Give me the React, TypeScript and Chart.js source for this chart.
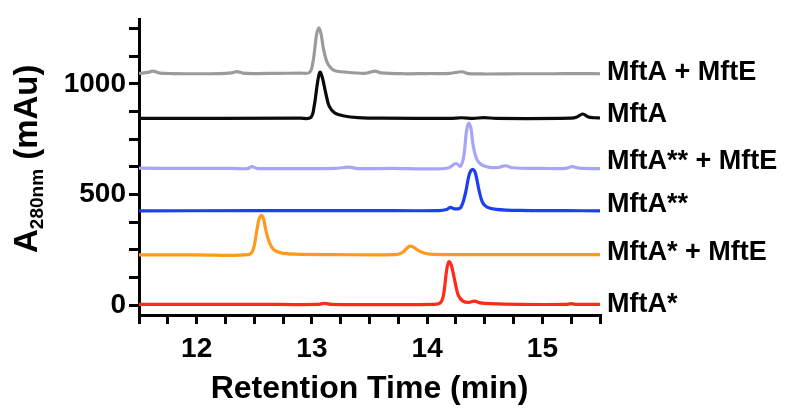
import React, { useEffect, useRef } from "react";
import { Chart, registerables } from "chart.js";

Chart.register(...registerables);

// ---- Data ----
const SERIES_NAMES = ["MftA + MftE", "MftA", "MftA** + MftE", "MftA**", "MftA* + MftE", "MftA*"];
const SERIES_COLORS = ["#9b9b9b", "#0a0a0a", "#a6a6f5", "#1c3ff0", "#ff9a1c", "#ff2a18"];

const X_TICK_LABELS = [12, 13, 14, 15];
const Y_TICK_LABELS = [0, 500, 1000];

const mftaMfteTime = [11.5, 11.58, 11.62, 11.68, 11.8, 12.0, 12.2, 12.3, 12.35, 12.4, 12.5, 12.7, 12.9, 12.98, 13.01, 13.04, 13.06, 13.08, 13.1, 13.13, 13.16, 13.2, 13.3, 13.45, 13.5, 13.55, 13.6, 13.8, 14.0, 14.2, 14.3, 14.36, 14.5, 14.8, 15.1, 15.3, 15.5];
const mftaMfteValue = [1048, 1052, 1058, 1049, 1047, 1046, 1047, 1050, 1056, 1049, 1047, 1048, 1049, 1052, 1100, 1220, 1253, 1225, 1160, 1100, 1075, 1060, 1053, 1048, 1052, 1058, 1050, 1046, 1047, 1048, 1055, 1047, 1045, 1046, 1046, 1047, 1046];

const mftaTime = [11.5, 12.9, 12.99, 13.02, 13.05, 13.07, 13.09, 13.12, 13.15, 13.2, 13.28, 13.4, 13.6, 14.2, 14.3, 14.4, 14.49, 14.6, 15.25, 15.3, 15.35, 15.4, 15.45, 15.5];
const mftaValue = [844, 845, 848, 900, 1010, 1053, 1030, 960, 900, 868, 855, 848, 845, 844, 847, 844, 848, 844, 845, 850, 864, 850, 847, 846];

const mftaSSMfteTime = [11.5, 11.9, 12.3, 12.44, 12.48, 12.52, 12.8, 13.2, 13.32, 13.4, 13.7, 14.0, 14.18, 14.25, 14.29, 14.32, 14.34, 14.36, 14.38, 14.4, 14.43, 14.47, 14.53, 14.62, 14.68, 14.74, 15.0, 15.2, 15.26, 15.32, 15.5];
const mftaSSMfteValue = [619, 618, 618, 617, 626, 618, 617, 618, 624, 617, 618, 616, 620, 640, 628, 680, 780, 822, 800, 720, 660, 635, 624, 622, 630, 621, 618, 618, 626, 619, 617];

const mftaSSTime = [11.5, 12.5, 13.5, 14.1, 14.17, 14.2, 14.24, 14.29, 14.33, 14.36, 14.38, 14.4, 14.42, 14.45, 14.48, 14.52, 14.6, 14.8, 15.2, 15.5];
const mftaSSValue = [426, 427, 427, 427, 432, 442, 435, 440, 500, 580, 608, 613, 595, 520, 465, 443, 433, 428, 427, 426];

const mftaSMfteTime = [11.5, 12.0, 12.45, 12.49, 12.52, 12.54, 12.56, 12.58, 12.6, 12.63, 12.67, 12.73, 12.85, 13.2, 13.72, 13.78, 13.82, 13.85, 13.88, 13.93, 13.98, 14.05, 14.5, 15.0, 15.5];
const mftaSMfteValue = [227, 227, 228, 250, 330, 385, 405, 390, 340, 285, 250, 236, 230, 228, 228, 236, 255, 267, 262, 245, 234, 229, 228, 228, 228];

const mftaSTime = [11.5, 12.5, 13.05, 13.11, 13.17, 13.6, 14.05, 14.11, 14.14, 14.17, 14.19, 14.21, 14.24, 14.27, 14.31, 14.36, 14.41, 14.46, 14.55, 14.8, 15.2, 15.25, 15.3, 15.5];
const mftaSValue = [3, 3, 3, 8, 3, 2, 3, 8, 40, 160, 196, 180, 110, 45, 18, 12, 18, 10, 6, 3, 3, 6, 3, 3];

const SERIES_TIMES = [mftaMfteTime, mftaTime, mftaSSMfteTime, mftaSSTime, mftaSMfteTime, mftaSTime];
const SERIES_VALUES = [mftaMfteValue, mftaValue, mftaSSMfteValue, mftaSSValue, mftaSMfteValue, mftaSValue];

const FONT = "'Liberation Sans', Arial, Helvetica, sans-serif";
const LABEL_NUDGE = [-1, -3, -7, -6, -2, 0];

const overlayPlugin = {
  id: "overlayText",
  afterDraw(chart: any) {
    const ctx = chart.ctx as CanvasRenderingContext2D;
    const { chartArea } = chart;
    const yScale = chart.scales.y;
    ctx.save();
    ctx.fillStyle = "#000";

    // X title
    ctx.font = `bold 32px ${FONT}`;
    ctx.textAlign = "center";
    ctx.textBaseline = "middle";
    ctx.fillText("Retention Time (min)", (chartArea.left + chartArea.right) / 2, 389);

    // Y title with subscript
    ctx.save();
    ctx.translate(37, 253);
    ctx.rotate(-Math.PI / 2);
    ctx.textAlign = "left";
    ctx.textBaseline = "alphabetic";
    ctx.font = `bold 33px ${FONT}`;
    ctx.fillText("A", 0, 0);
    let x = ctx.measureText("A").width;
    ctx.font = `bold 19px ${FONT}`;
    ctx.fillText("280nm", x, 6);
    x += ctx.measureText("280nm").width;
    ctx.font = `bold 33px ${FONT}`;
    ctx.fillText(" (mAu)", x, 0);
    ctx.restore();

    // Series labels
    ctx.font = `bold 27px ${FONT}`;
    ctx.textAlign = "left";
    ctx.textBaseline = "middle";
    SERIES_NAMES.forEach((name, i) => {
      const vals = SERIES_VALUES[i];
      const y = yScale.getPixelForValue(vals[vals.length - 1]) + LABEL_NUDGE[i];
      ctx.fillText(name, chartArea.right + 7, y);
    });
    ctx.restore();
  },
};

export default function App() {
  const ref = useRef<HTMLCanvasElement>(null);

  useEffect(() => {
    if (!ref.current) return;
    const datasets = SERIES_NAMES.map((name, i) => ({
      label: name,
      data: SERIES_TIMES[i].map((t, j) => ({ x: t, y: SERIES_VALUES[i][j] })),
      borderColor: SERIES_COLORS[i],
      backgroundColor: SERIES_COLORS[i],
      borderWidth: 3.2,
      pointRadius: 0,
      tension: 0.35,
      fill: false,
    }));

    const chart = new Chart(ref.current, {
      type: "line",
      data: { datasets },
      options: {
        animation: false,
        responsive: false,
        devicePixelRatio: 1,
        layout: { padding: { top: 14, right: 200, left: 0, bottom: 0 } },
        plugins: { legend: { display: false }, tooltip: { enabled: false } },
        scales: {
          x: {
            type: "linear",
            min: 11.5,
            max: 15.5,
            afterFit(scale: any) {
              scale.height = 105;
            },
            afterBuildTicks(scale: any) {
              const ticks = [];
              for (let v = 11.5; v <= 15.5001; v += 0.25) ticks.push({ value: Math.round(v * 100) / 100 });
              scale.ticks = ticks;
            },
            grid: {
              drawOnChartArea: false,
              drawTicks: true,
              tickLength: 9,
              lineWidth: 3,
              tickWidth: 3,
              color: "#000",
            },
            border: { display: true, width: 3, color: "#000" },
            ticks: {
              autoSkip: false,
              maxRotation: 0,
              padding: 8,
              color: "#000",
              font: { family: FONT, size: 28, weight: "bold" },
              callback: (v: any) => (X_TICK_LABELS.includes(Number(v)) ? String(v) : ""),
            },
          },
          y: {
            type: "linear",
            min: -45,
            max: 1290,
            afterFit(scale: any) {
              scale.width = 139;
            },
            afterBuildTicks(scale: any) {
              const ticks = [];
              for (let v = 0; v <= 1250; v += 125) ticks.push({ value: v });
              scale.ticks = ticks;
            },
            grid: {
              drawOnChartArea: false,
              drawTicks: true,
              tickLength: 10,
              lineWidth: 3,
              tickWidth: 3,
              color: "#000",
            },
            border: { display: true, width: 3, color: "#000" },
            ticks: {
              autoSkip: false,
              padding: 3,
              color: "#000",
              font: { family: FONT, size: 28, weight: "bold" },
              callback: (v: any) => (Y_TICK_LABELS.includes(Number(v)) ? String(v) : ""),
            },
          },
        },
      },
      plugins: [overlayPlugin],
    });
    return () => chart.destroy();
  }, []);

  return (
    <div style={{ position: "fixed", left: 0, top: 0, width: 800, height: 420, background: "#fff" }}>
      <canvas ref={ref} width={800} height={420} style={{ width: 800, height: 420, display: "block" }} />
    </div>
  );
}
